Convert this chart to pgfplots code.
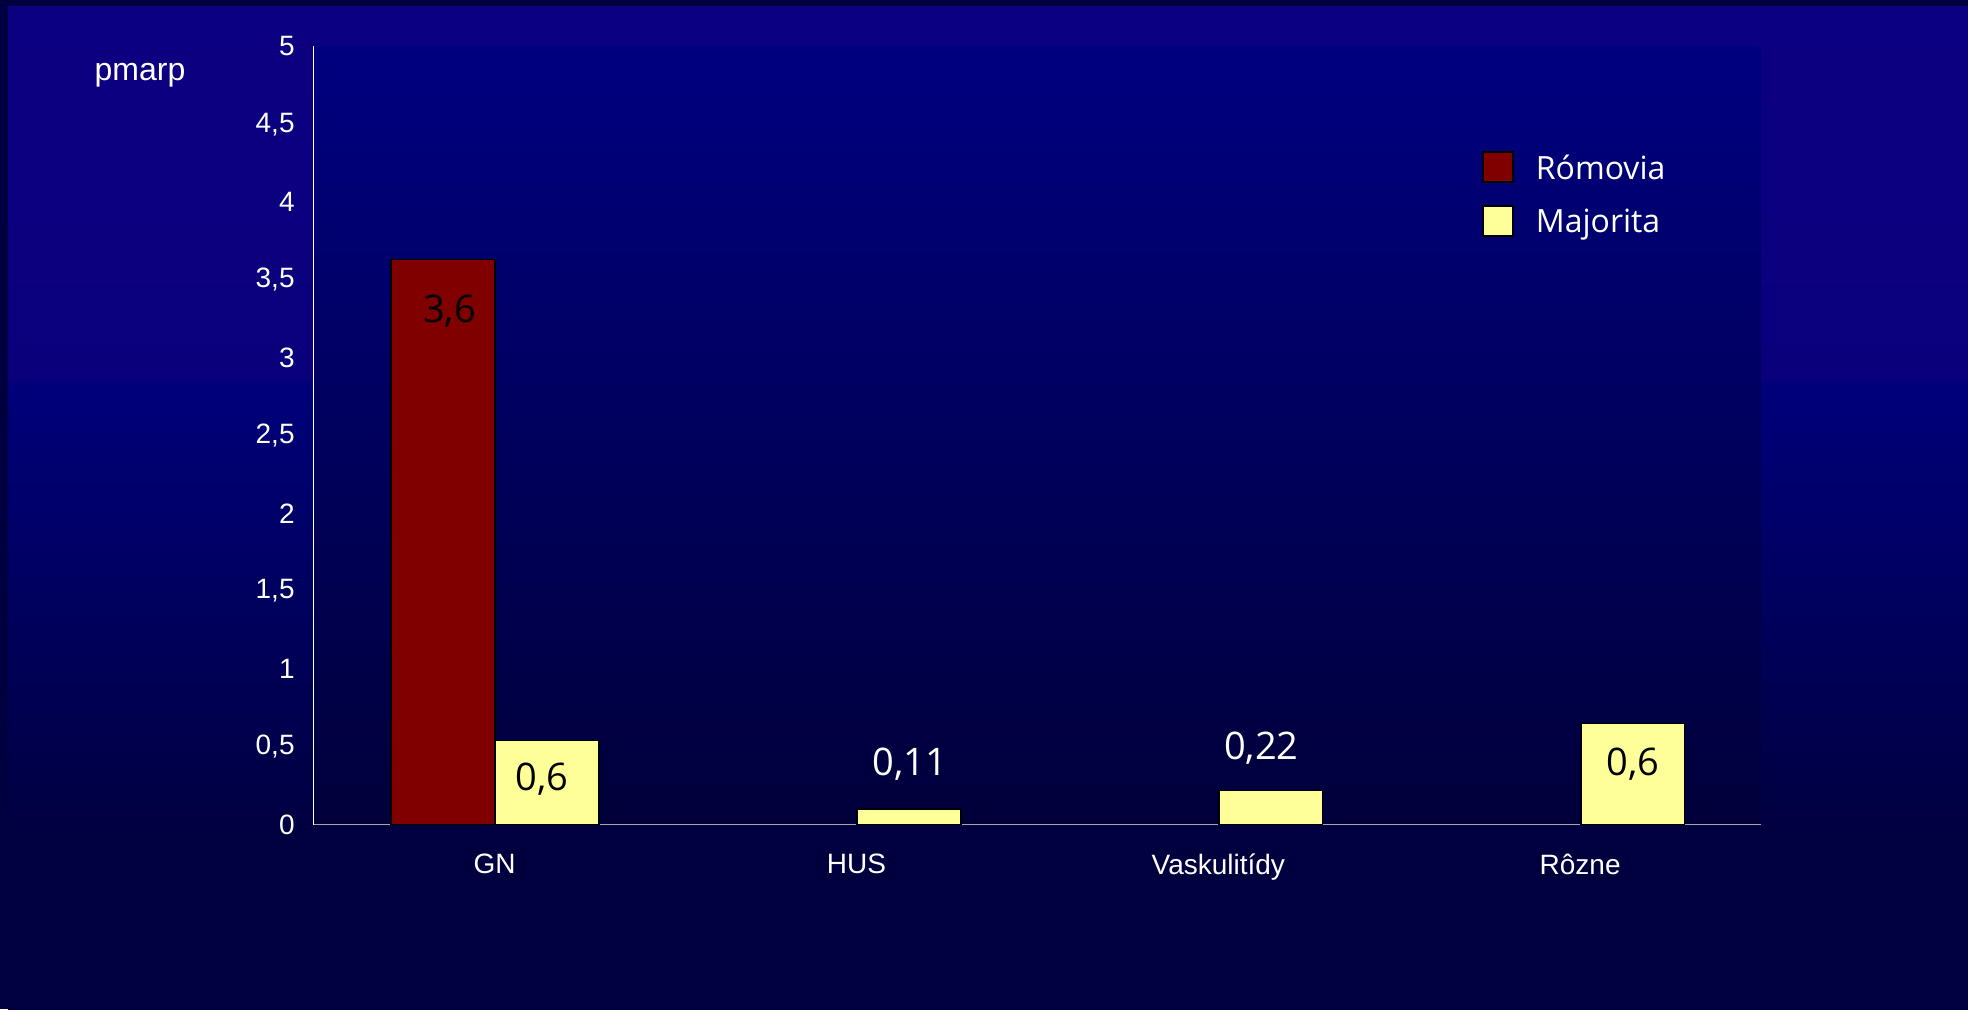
\documentclass[border=0pt]{standalone}
\usepackage{fontspec}
\setmainfont{Liberation Sans}
\newfontfamily\comic{Open Sans}
\usepackage{pgfplots}
\pgfplotsset{compat=1.18}
\definecolor{frame}{HTML}{000040}
\definecolor{bgbot}{HTML}{00003E}
\definecolor{bgmid}{HTML}{00007A}
\definecolor{bgpurp}{HTML}{0A007C}
\definecolor{bgtop}{HTML}{0C0082}
\definecolor{patop}{HTML}{000080}
\definecolor{pabot}{HTML}{00003A}
\definecolor{romred}{HTML}{800000}
\definecolor{majyel}{HTML}{FFFF99}
\pgfdeclareverticalshading{outerbg}{100bp}{color(0bp)=(bgbot); color(25bp)=(bgbot); color(33bp)=(bgbot); color(56bp)=(bgmid); color(56.6bp)=(bgpurp); color(75bp)=(bgtop); color(100bp)=(bgtop)}
\pgfdeclareverticalshading{plotbg}{100bp}{color(0bp)=(pabot); color(25bp)=(pabot); color(75bp)=(patop); color(100bp)=(patop)}
\begin{document}
\begin{tikzpicture}
\fill[frame] (0,0) rectangle (984pt,504.5pt);
\shade[shading=outerbg] (4pt,0) rectangle (984pt,501pt);
\begin{axis}[
  at={(156.9pt,92.2pt)}, anchor=south west,
  scale only axis, width=723.6pt, height=389.1pt,
  axis background/.style={shade, shading=plotbg},
  xmin=-0.5, xmax=3.5, ymin=0, ymax=5,
  xtick={0,1,2,3}, xticklabels={GN,HUS,Vaskulitídy,Rôzne},
  ytick={0,0.5,...,5},
  major tick length=0pt,
  axis x line*=bottom, axis y line*=left,
  x axis line style={draw=black!35, -, line width=0.8pt},
  y axis line style={draw=white, -, line width=0.6pt},
  ticklabel style={font=\fontsize{14}{16}\selectfont, text=white},
  yticklabel style={/pgf/number format/.cd, use comma, fixed, assume math mode=true, /tikz/.cd, anchor=east, inner sep=0pt, xshift=-9.4pt},
  xticklabel style={anchor=north, inner sep=0pt, yshift=-14.5pt},
  ybar, bar width=51.8pt,
  legend style={at={(rel axis cs:0.807,0.866)}, anchor=north west, draw=none, fill=none, font=\comic\fontsize{16}{18}\selectfont, text=white, row sep=9pt, inner sep=0pt, column sep=9pt},
  legend cell align=left,
  legend image code/.code={\draw[#1, draw=black, line width=0.9pt] (0pt,-6.5pt) rectangle (15pt,8.5pt);},
]
\addplot[fill=romred, draw=black, line width=0.8pt, bar shift=-0.143*180.9pt] coordinates {(0,3.63)};
\addlegendentry{Rómovia}
\addplot[fill=majyel, draw=black, line width=0.8pt, bar shift=0.145*180.9pt] coordinates {(0,0.54) (1,0.1) (2,0.22) (3,0.65)};
\addlegendentry{Majorita}
\node[font=\comic\fontsize{19}{21}\selectfont, text=black] at (axis cs:-0.125,3.30) {3,6};
\node[font=\comic\fontsize{19}{21}\selectfont, text=black] at (axis cs:0.131,0.29) {0,6};
\node[font=\comic\fontsize{19}{21}\selectfont, text=white] at (axis cs:1.148,0.39) {0,11};
\node[font=\comic\fontsize{19}{21}\selectfont, text=white] at (axis cs:2.119,0.49) {0,22};
\node[font=\comic\fontsize{19}{21}\selectfont, text=black] at (axis cs:3.146,0.39) {0,6};
\end{axis}
\node[font=\fontsize{16}{18}\selectfont, text=white] at (70pt,467pt) {pmarp};
\pgfresetboundingbox
\useasboundingbox (0,0) rectangle (984pt,504.5pt);
\end{tikzpicture}
\end{document}
